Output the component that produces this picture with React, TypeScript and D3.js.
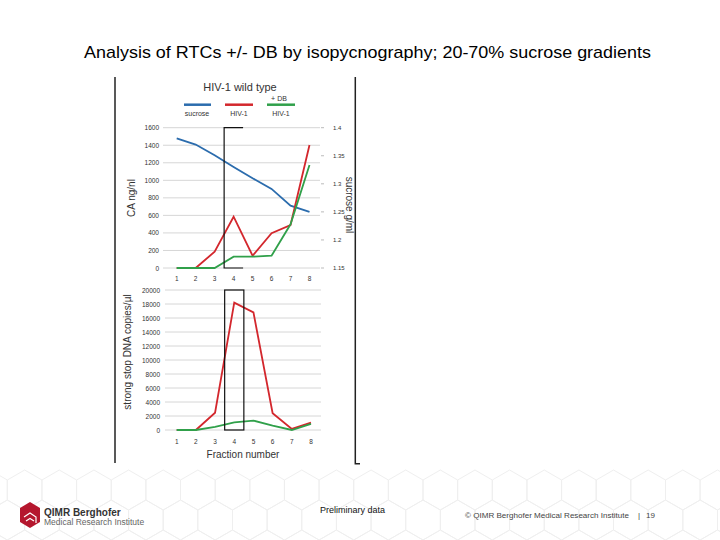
import React from "react";
import * as d3 from "d3";

const fractions = [1, 2, 3, 4, 5, 6, 7, 8];
const sucrose = [1.381, 1.37, 1.351, 1.33, 1.31, 1.291, 1.261, 1.25];
const caHiv = [0, 0, 186, 585, 140, 396, 490, 1402];
const caHivDb = [0, 0, 0, 129, 129, 140, 498, 1175];
const ssHiv = [0, 0, 2470, 18200, 16800, 2400, 150, 1050];
const ssHivDb = [0, 0, 450, 1100, 1350, 620, 0, 880];
const caTicks = [0, 200, 400, 600, 800, 1000, 1200, 1400, 1600];
const sucroseTicks = [1.15, 1.2, 1.25, 1.3, 1.35, 1.4];
const ssTicks = [0, 2000, 4000, 6000, 8000, 10000, 12000, 14000, 16000, 18000, 20000];
const boxFractions = [3.5, 4.5];

const BLUE = "#2b6cad";
const RED = "#d3272d";
const GREEN = "#30a04a";
const FONT = "Liberation Sans, Arial, sans-serif";

function Hexes() {
  const hexes: JSX.Element[] = [];
  const r = 20;
  const w = Math.sqrt(3) * r;
  for (let row = 0; row < 3; row++) {
    for (let col = 0; col < 22; col++) {
      const cx = col * w + (row % 2 ? w / 2 : 0) - 10;
      const cy = 490 + row * r * 1.5;
      const pts = d3.range(6).map((i) => {
        const a = (Math.PI / 3) * i + Math.PI / 6;
        return [cx + r * Math.cos(a), cy + r * Math.sin(a)].join(",");
      });
      hexes.push(<polygon key={`${row}-${col}`} points={pts.join(" ")} fill="none" stroke="#efefef" strokeWidth={1} />);
    }
  }
  return <g>{hexes}</g>;
}

export default function App() {
  const xT = d3.scaleLinear().domain([1, 8]).range([176.7, 309.5]);
  const yT = d3.scaleLinear().domain([0, 1600]).range([268, 127.7]);
  const yR = d3.scaleLinear().domain([1.15, 1.4]).range([268, 127.7]);
  const xB = d3.scaleLinear().domain([1, 8]).range([176.7, 311]);
  const yB = d3.scaleLinear().domain([0, 20000]).range([430, 290]);

  const lineT = (vals: number[]) =>
    d3.line<number>().x((_, i) => xT(fractions[i])).y((v) => yT(v))(vals) || "";
  const lineR = (vals: number[]) =>
    d3.line<number>().x((_, i) => xT(fractions[i])).y((v) => yR(v))(vals) || "";
  const lineB = (vals: number[]) =>
    d3.line<number>().x((_, i) => xB(fractions[i])).y((v) => yB(v))(vals) || "";

  const fmtR = (v: number) => String(+v.toFixed(2));

  return (
    <svg width={720} height={540} style={{ position: "absolute", left: 0, top: 0 }} fontFamily={FONT}>
      <rect width={720} height={540} fill="#fff" />
      <Hexes />

      <text x={84} y={58} fontSize={17} textLength={567} lengthAdjust="spacingAndGlyphs" fill="#000">
        Analysis of RTCs +/- DB by isopycnography; 20-70% sucrose gradients
      </text>

      {/* panel frame */}
      <line x1={115} x2={115} y1={77} y2={463} stroke="#222" strokeWidth={1.5} />
      <path d="M355.3,77 V463.7 H360" fill="none" stroke="#222" strokeWidth={1.5} />

      {/* legend */}
      <text x={240} y={90.5} textAnchor="middle" fontSize={11} fill="#333">HIV-1 wild type</text>
      <text x={279} y={100.5} textAnchor="middle" fontSize={7} fill="#333">+ DB</text>
      <line x1={184} x2={211} y1={104.7} y2={104.7} stroke={BLUE} strokeWidth={2.5} />
      <line x1={225} x2={253} y1={104.7} y2={104.7} stroke={RED} strokeWidth={2.5} />
      <line x1={267} x2={295} y1={104.7} y2={104.7} stroke={GREEN} strokeWidth={2.5} />
      <text x={197} y={115.5} textAnchor="middle" fontSize={7} fill="#333">sucrose</text>
      <text x={239} y={116} textAnchor="middle" fontSize={7} fill="#333">HIV-1</text>
      <text x={281} y={116} textAnchor="middle" fontSize={7} fill="#333">HIV-1</text>

      {/* top chart */}
      {caTicks.map((t) => (
        <g key={`ct${t}`}>
          <line x1={163} x2={320} y1={yT(t)} y2={yT(t)} stroke="#d6d6d6" strokeWidth={1} />
          <text x={159} y={yT(t) + 2.5} textAnchor="end" fontSize={6.5} fill="#333">{t}</text>
        </g>
      ))}
      {sucroseTicks.map((t) => (
        <g key={`st${t}`}>
          <line x1={321} x2={324} y1={yR(t)} y2={yR(t)} stroke="#bbb" strokeWidth={1} />
          <text x={333} y={yR(t) + 2.3} textAnchor="start" fontSize={6} fill="#333">{fmtR(t)}</text>
        </g>
      ))}
      {fractions.map((f) => (
        <text key={`fx${f}`} x={xT(f)} y={281} textAnchor="middle" fontSize={6.5} fill="#333">{f}</text>
      ))}
      <text transform={`translate(135,198) rotate(-90)`} textAnchor="middle" fontSize={10} fill="#333">CA ng/nl</text>
      <text transform={`translate(345.5,205) rotate(90)`} textAnchor="middle" fontSize={10} fill="#333">sucrose g/ml</text>

      <path d={lineR(sucrose)} fill="none" stroke={BLUE} strokeWidth={1.8} />
      <path d={lineT(caHiv)} fill="none" stroke={RED} strokeWidth={1.8} />
      <path d={lineT(caHivDb)} fill="none" stroke={GREEN} strokeWidth={1.8} />
      <path
        d={`M${xT(boxFractions[1])},${yT(1600)} H${xT(boxFractions[0])} V${yT(0)} H${xT(boxFractions[1])}`}
        fill="none" stroke="#111" strokeWidth={1.2}
      />

      {/* bottom chart */}
      {ssTicks.map((t) => (
        <g key={`ss${t}`}>
          <line x1={165} x2={321} y1={yB(t)} y2={yB(t)} stroke="#d6d6d6" strokeWidth={1} />
          <text x={160} y={yB(t) + 2.5} textAnchor="end" fontSize={6.5} fill="#333">{t}</text>
        </g>
      ))}
      {fractions.map((f) => (
        <text key={`fb${f}`} x={xB(f)} y={444} textAnchor="middle" fontSize={6.5} fill="#333">{f}</text>
      ))}
      <text x={243} y={458} textAnchor="middle" fontSize={10} fill="#333">Fraction number</text>
      <text transform={`translate(131,352) rotate(-90)`} textAnchor="middle" fontSize={10} fill="#333">strong stop DNA copies/µl</text>

      <path d={lineB(ssHiv)} fill="none" stroke={RED} strokeWidth={1.8} />
      <path d={lineB(ssHivDb)} fill="none" stroke={GREEN} strokeWidth={1.8} />
      <rect
        x={xB(boxFractions[0])} y={yB(20000)}
        width={xB(boxFractions[1]) - xB(boxFractions[0])} height={yB(0) - yB(20000)}
        fill="none" stroke="#111" strokeWidth={1.2}
      />

      {/* footer */}
      <path d="M30,502 L40,508 V522 L30,528 L20,522 V508 Z" fill="#b5172e" />
      <path d="M24,517 L30,513 L36,517 V523 M26,521 L30,518.5 L34,521" fill="none" stroke="#fff" strokeWidth={1.2} />
      <text x={44} y={516} fontSize={10} fontWeight="bold" fill="#333">QIMR Berghofer</text>
      <text x={44} y={525} fontSize={8.5} fill="#666">Medical Research Institute</text>
      <text x={320} y={513} fontSize={9} fill="#111">Preliminary data</text>
      <text x={465} y={518} fontSize={8} fill="#444" textLength={164} lengthAdjust="spacingAndGlyphs">© QIMR Berghofer Medical Research Institute</text>
      <text x={638} y={518} fontSize={8} fill="#444">|</text>
      <text x={646} y={518} fontSize={8} fill="#444">19</text>
    </svg>
  );
}
